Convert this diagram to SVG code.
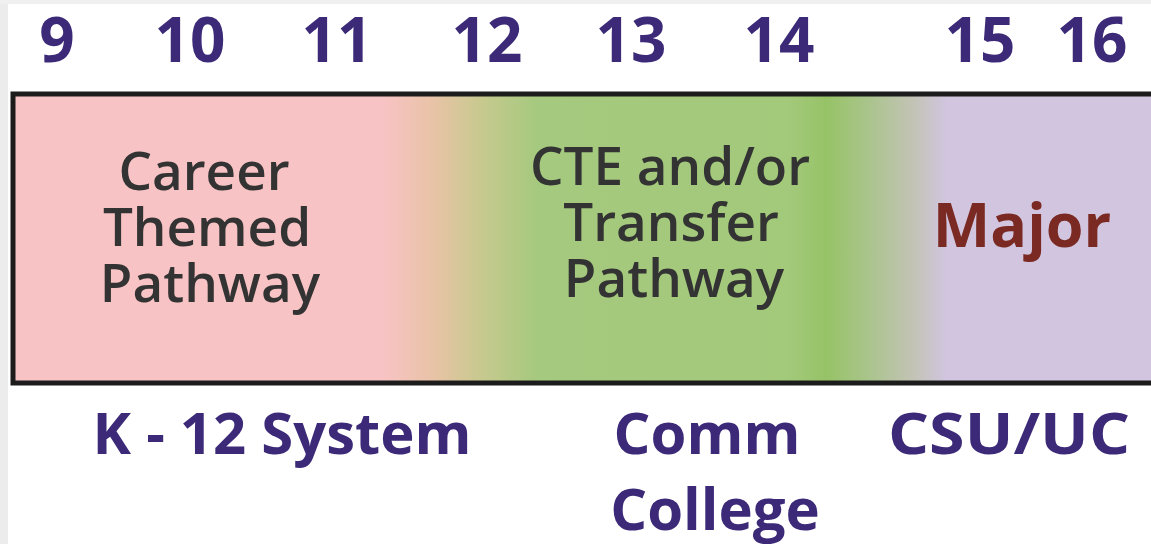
<svg xmlns="http://www.w3.org/2000/svg" width="1151" height="544" viewBox="0 0 1151 544">
  <defs>
    <linearGradient id="bandGrad" x1="14" y1="0" x2="1151" y2="0" gradientUnits="userSpaceOnUse">
      <stop offset="0" stop-color="#f8c3c4"/>
      <stop offset="0.325" stop-color="#f8c3c4"/>
      <stop offset="0.37" stop-color="#e8c3a6"/>
      <stop offset="0.41" stop-color="#c8c98f"/>
      <stop offset="0.46" stop-color="#a5c97e"/>
      <stop offset="0.68" stop-color="#a3c97b"/>
      <stop offset="0.715" stop-color="#97c367"/>
      <stop offset="0.75" stop-color="#a9c48a"/>
      <stop offset="0.79" stop-color="#c2c3b4"/>
      <stop offset="0.82" stop-color="#d1c5df"/>
      <stop offset="1" stop-color="#d1c5df"/>
    </linearGradient>
    <style>
      .num { font-family: "Open Sans", "Liberation Sans", sans-serif; font-weight: 700; font-size: 62px; fill: #3c2a78; text-anchor: middle; }
      .band { font-family: "Open Sans", "Liberation Sans", sans-serif; font-weight: 600; font-size: 53px; fill: #333333; text-anchor: middle; }
      .major { font-family: "Open Sans", "Liberation Sans", sans-serif; font-weight: 700; font-size: 61px; fill: #7a2a22; text-anchor: middle; }
      .sys { font-family: "Open Sans", "Liberation Sans", sans-serif; font-weight: 700; font-size: 58px; fill: #3c2a78; text-anchor: middle; }
    </style>
  </defs>
  <rect x="0" y="0" width="1151" height="544" fill="#ffffff"/>
  <rect x="0" y="0" width="8" height="544" fill="#ececec"/>
  <rect x="0" y="0" width="1151" height="4" fill="#f0f0f0"/>

  <g id="year-scale">
    <text class="num" x="57" y="62">9</text>
    <text class="num" x="190" y="62">10</text>
    <text class="num" x="337" y="62">11</text>
    <text class="num" x="487" y="62">12</text>
    <text class="num" x="631" y="62">13</text>
    <text class="num" x="779" y="62">14</text>
    <text class="num" x="980" y="62">15</text>
    <text class="num" x="1092" y="62">16</text>
  </g>

  <g id="band">
    <rect x="13" y="94" width="1145" height="289" fill="url(#bandGrad)" stroke="#1c1c1c" stroke-width="5"/>
  </g>

  <g id="career-themed-pathway">
    <text class="band" x="204" y="190">Career</text>
    <text class="band" x="207" y="246">Themed</text>
    <text class="band" x="210" y="302">Pathway</text>
  </g>

  <g id="cte-transfer-pathway">
    <text class="band" x="670" y="185">CTE and/or</text>
    <text class="band" x="671" y="241">Transfer</text>
    <text class="band" x="674" y="297">Pathway</text>
  </g>

  <g id="major">
    <text class="major" x="1022" y="247">Major</text>
  </g>

  <g id="k12-system">
    <text class="sys" x="282" y="454">K - 12 System</text>
  </g>

  <g id="comm-college">
    <text class="sys" x="707" y="454">Comm</text>
    <text class="sys" x="715" y="530">College</text>
  </g>

  <g id="csu-uc">
    <text class="sys" x="1009" y="454" textLength="242" lengthAdjust="spacingAndGlyphs">CSU/UC</text>
  </g>

  <g id="connectors"/>
</svg>
